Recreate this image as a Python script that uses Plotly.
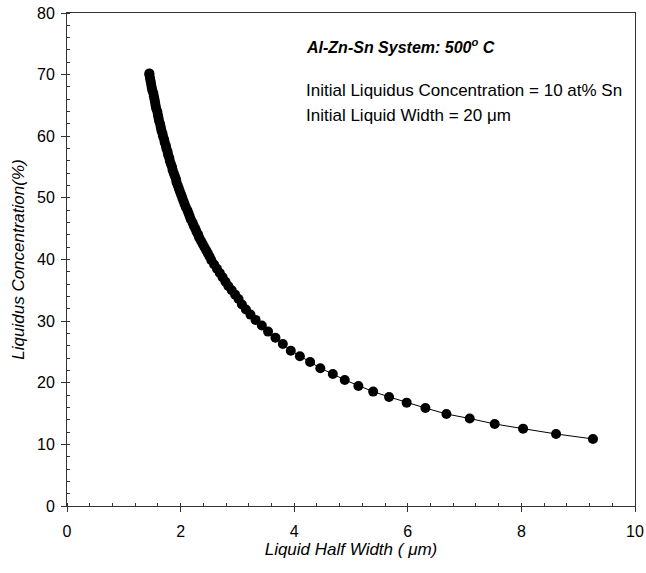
import plotly.graph_objects as go

# Liquid half width (um) and liquidus concentration (%)
half_width = [9.26, 8.61, 8.03, 7.53, 7.09, 6.68, 6.31, 5.98, 5.67, 5.39, 5.13, 4.89,
              4.68, 4.46, 4.28, 4.10, 3.94, 3.80, 3.67, 3.54, 3.43, 3.32, 3.23, 3.15, 3.08,
              3.02, 2.96, 2.90, 2.84, 2.79, 2.74, 2.69, 2.64, 2.59, 2.54,
              2.51, 2.48, 2.45, 2.42, 2.39, 2.36, 2.33, 2.31, 2.28, 2.26, 2.23, 2.21,
              2.18, 2.16, 2.14, 2.12, 2.09, 2.07, 2.05, 2.03, 2.01, 1.99, 1.97, 1.95,
              1.93, 1.92, 1.90, 1.88, 1.86, 1.85, 1.83, 1.81, 1.80, 1.78, 1.77, 1.75,
              1.74, 1.72, 1.71, 1.69, 1.68, 1.66, 1.65, 1.64, 1.62, 1.61, 1.60, 1.59,
              1.57, 1.56, 1.55, 1.54, 1.53, 1.52, 1.50, 1.49, 1.48, 1.47, 1.46, 1.45,
              1.45]
concentration = [10.88, 11.69, 12.55, 13.31, 14.2, 14.93, 15.9, 16.77, 17.7, 18.56, 19.48, 20.45,
                 21.43, 22.35, 23.38, 24.3, 25.2, 26.3, 27.3, 28.3, 29.3, 30.2, 31.06, 31.9, 32.7,
                 33.6, 34.3, 35.0, 35.7, 36.4, 37.1, 37.8, 38.5, 39.2, 39.9,
                 40.5, 41.0, 41.5, 42.0, 42.5, 43.0, 43.5, 44.0, 44.5, 45.0, 45.5, 46.0,
                 46.5, 47.0, 47.5, 48.0, 48.5, 49.0, 49.5, 50.0, 50.5, 51.0, 51.5, 52.0,
                 52.5, 53.0, 53.5, 54.0, 54.5, 55.0, 55.5, 56.0, 56.5, 57.0, 57.5, 58.0,
                 58.5, 59.0, 59.5, 60.0, 60.5, 61.0, 61.5, 62.0, 62.5, 63.0, 63.5, 64.0,
                 64.5, 65.0, 65.5, 66.0, 66.5, 67.0, 67.5, 68.0, 68.5, 69.0, 69.5, 70.0,
                 70.2]

x_ticks = [0, 2, 4, 6, 8, 10]
y_ticks = [0, 10, 20, 30, 40, 50, 60, 70, 80]

FONT = "Arial, Liberation Sans, sans-serif"

fig = go.Figure()
fig.add_trace(go.Scatter(
    x=half_width, y=concentration, mode="lines+markers",
    line=dict(color="black", width=1),
    marker=dict(color="black", size=10),
    showlegend=False,
))

axis_common = dict(
    showline=True, linecolor="#333", linewidth=1, mirror=True,
    showgrid=False, zeroline=False, automargin=False,
    ticks="outside", ticklen=5, tickcolor="#333",
    tickfont=dict(family=FONT, size=16, color="black"),
)

fig.update_xaxes(
    range=[0, 10], tickvals=x_ticks, ticklabelstandoff=6,
    minor=dict(ticks="inside", dtick=0.4, ticklen=3, tickcolor="#333"),
    title=dict(text="<i>Liquid Half Width ( \u03bcm)</i>",
               font=dict(family=FONT, size=17, color="black"), standoff=0),
    **axis_common,
)
fig.update_yaxes(
    range=[0, 80], tickvals=y_ticks, ticklabelstandoff=3,
    minor=dict(ticks="inside", dtick=2, ticklen=3, tickcolor="#333"),
    title=dict(text="<i>Liquidus Concentration(%)</i>",
               font=dict(family=FONT, size=17, color="black"), standoff=8),
    **axis_common,
)

fig.add_annotation(xref="paper", yref="paper", x=0.417, y=0.934, xanchor="left", yanchor="middle",
                   text="<b><i>Al-Zn-Sn System: 500<sup>o</sup> C</i></b>", showarrow=False,
                   font=dict(family=FONT, size=16, color="black"))
fig.add_annotation(xref="paper", yref="paper", x=0.417, y=0.843, xanchor="left", yanchor="middle",
                   text="Initial Liquidus Concentration = 10 at% Sn", showarrow=False,
                   font=dict(family=FONT, size=17, color="black"))
fig.add_annotation(xref="paper", yref="paper", x=0.417, y=0.792, xanchor="left", yanchor="middle",
                   text="Initial Liquid Width = 20 \u03bcm", showarrow=False,
                   font=dict(family=FONT, size=17, color="black"))

fig.update_layout(
    width=646, height=573,
    margin=dict(l=67, r=11, t=13, b=67),
    paper_bgcolor="white", plot_bgcolor="white",
    font=dict(family=FONT, color="black"),
)

fig.write_html("out.html", config={"displayModeBar": False},
               post_script="document.body.style.margin='0';document.body.style.overflow='hidden';")
